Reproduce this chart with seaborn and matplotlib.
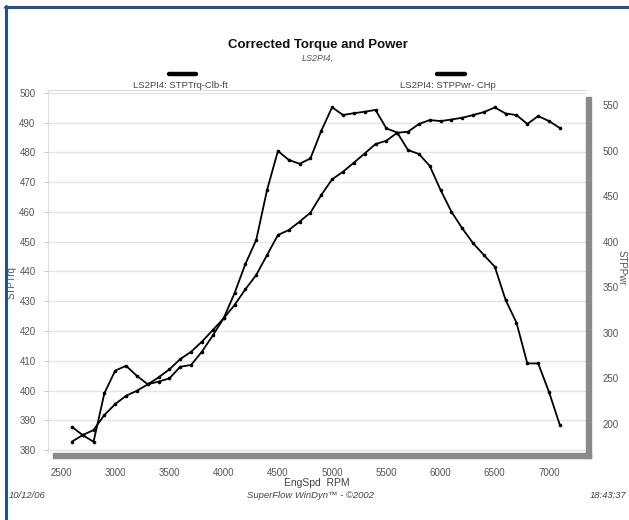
import matplotlib
matplotlib.use("Agg")
import matplotlib.pyplot as plt
from matplotlib.lines import Line2D
from matplotlib.patches import Rectangle
import numpy as np
import pandas as pd
import seaborn as sns

# Dyno run LS2PI4 – corrected torque (ft-lb) and power (hp) vs engine speed
rpm = [2600, 2700, 2800, 2900, 3000, 3100, 3200, 3300, 3400, 3500,
       3600, 3700, 3800, 3900, 4000, 4100, 4200, 4300, 4400, 4500,
       4600, 4700, 4800, 4900, 5000, 5100, 5200, 5300, 5400, 5500,
       5600, 5700, 5800, 5900, 6000, 6100, 6200, 6300, 6400, 6500,
       6600, 6700, 6800, 6900, 7000, 7100]

torque = [387.8, 385.0, 382.8, 399.1, 406.7, 408.3, 404.9, 402.1, 403.0, 404.1,
          408.0, 408.6, 413.1, 418.5, 424.3, 432.7, 442.5, 450.6, 467.4, 480.5,
          477.5, 476.2, 478.0, 487.3, 495.2, 492.6, 493.2, 493.7, 494.3, 488.1,
          486.7, 480.8, 479.5, 475.5, 467.4, 460.1, 454.5, 449.5, 445.5, 441.6,
          430.4, 422.8, 409.1, 409.1, 399.5, 388.4]

power = [180.6, 187.9, 193.4, 209.9, 221.9, 231.0, 236.5, 243.5, 251.2, 260.0,
         271.3, 279.3, 290.5, 303.1, 316.0, 330.6, 347.8, 363.5, 385.4, 407.4,
         412.8, 422.0, 432.0, 451.3, 468.5, 476.8, 486.7, 496.8, 507.2, 510.8,
         519.6, 520.7, 529.2, 533.5, 532.4, 534.1, 536.1, 539.0, 542.3, 547.3,
         540.7, 539.0, 529.2, 537.9, 532.4, 524.8]

x_ticks = [2500, 3000, 3500, 4000, 4500, 5000, 5500, 6000, 6500, 7000]
trq_ticks = [380, 390, 400, 410, 420, 430, 440, 450, 460, 470, 480, 490, 500]
pwr_ticks = [200, 250, 300, 350, 400, 450, 500, 550]

df = pd.DataFrame({"rpm": rpm, "torque": torque, "power": power})

sns.set_theme(style="white")
plt.rcParams["font.family"] = ["Liberation Sans", "DejaVu Sans"]

W, H = 629, 520
fig = plt.figure(figsize=(W / 100, H / 100), dpi=100)
fig.patch.set_facecolor("white")

ax_l, ax_r, ax_t, ax_b = 48, 586, 90, 453
ax = fig.add_axes([ax_l / W, 1 - ax_b / H, (ax_r - ax_l) / W, (ax_b - ax_t) / H])
ax2 = ax.twinx()

line_kw = dict(color="black", linewidth=1.3, marker="o", markersize=2.6,
               markeredgewidth=0, legend=False)
sns.lineplot(data=df, x="rpm", y="torque", ax=ax, zorder=3, **line_kw)
sns.lineplot(data=df, x="rpm", y="power", ax=ax2, zorder=3, **line_kw)

ax.set_xlim(2380, 7341)
ax.set_ylim(379.0, 501.0)
ax2.set_ylim(168.2, 566.5)

ax.set_xticks(x_ticks)
ax.set_yticks(trq_ticks)
ax2.set_yticks(pwr_ticks)

tick_color = "#555555"
ax.yaxis.grid(True, color="#e4e4e4", linewidth=1.0)
ax.xaxis.grid(False)
ax.set_axisbelow(True)

ax.tick_params(axis="y", which="both", left=True, length=3, width=0.6,
               color="#bbbbbb", labelsize=7, labelcolor=tick_color, pad=6)
ax.tick_params(axis="x", which="both", bottom=False, length=0,
               labelsize=7, labelcolor=tick_color, pad=11)
ax2.tick_params(axis="y", right=False, length=0, labelsize=7,
                labelcolor=tick_color, pad=12)

for side in ("right", "bottom"):
    ax.spines[side].set_visible(False)
for side in ("top", "left"):
    ax.spines[side].set_color("#dddddd")
    ax.spines[side].set_linewidth(0.8)
for s in ax2.spines.values():
    s.set_visible(False)

plot_w = ax_r - ax_l
ax.set_xlabel("EngSpd  RPM", fontsize=7.5, color="#444444", labelpad=0)
ax.set_ylabel("STPTrq", fontsize=7, color="#555555")
ax.yaxis.set_label_coords((17 - ax_l) / plot_w, 0.47)
ax2.set_ylabel("STPPwr", fontsize=7, color="#555555", rotation=270, va="center")
ax2.yaxis.set_label_coords((622 - ax_l) / plot_w, 0.51)

# Shadow frame along the right and bottom of the plot area
shade = "#8a8a8a"
fig.patches.append(Rectangle((ax_r / W, 1 - 458 / H), 5 / W, (458 - 97) / H,
                             transform=fig.transFigure, color=shade, zorder=5))
fig.patches.append(Rectangle((53 / W, 1 - 458 / H), (591 - 53) / W, 5 / H,
                             transform=fig.transFigure, color=shade, zorder=5))

# Page border
navy = "#24508c"
fig.add_artist(Line2D([5.5 / W, 5.5 / W], [0, 1 - 6 / H], transform=fig.transFigure,
                      color=navy, linewidth=2.2))
fig.add_artist(Line2D([5 / W, 1], [1 - 6.5 / H, 1 - 6.5 / H], transform=fig.transFigure,
                      color=navy, linewidth=2.2))

# Titles
fig.text(318 / W, 1 - 45 / H, "Corrected Torque and Power", ha="center", va="center",
         fontsize=9.5, fontweight="bold", color="#111111")
fig.text(318 / W, 1 - 58 / H, "LS2PI4,", ha="center", va="center",
         fontsize=6.5, style="italic", color="#555555")

# Legend
for x0, x1, label, cx in [(169, 196, "LS2PI4: STPTrq-Clb-ft", 180),
                          (437, 465, "LS2PI4: STPPwr- CHp", 448)]:
    fig.add_artist(Line2D([x0 / W, x1 / W], [1 - 74 / H, 1 - 74 / H],
                          transform=fig.transFigure, color="black", linewidth=3.2))
    fig.text(cx / W, 1 - 85 / H, label, ha="center", va="center",
             fontsize=6.8, color="#444444")

# Footer
foot = dict(fontsize=6.8, style="italic", color="#444444", va="center")
fig.text(9 / W, 1 - 496 / H, "10/12/06", ha="left", **foot)
fig.text(310 / W, 1 - 496 / H, "SuperFlow WinDyn\u2122 - \u00a92002", ha="center", **foot)
fig.text(626 / W, 1 - 496 / H, "18:43:37", ha="right", **foot)

fig.savefig("out.png", dpi=100, facecolor="white")
